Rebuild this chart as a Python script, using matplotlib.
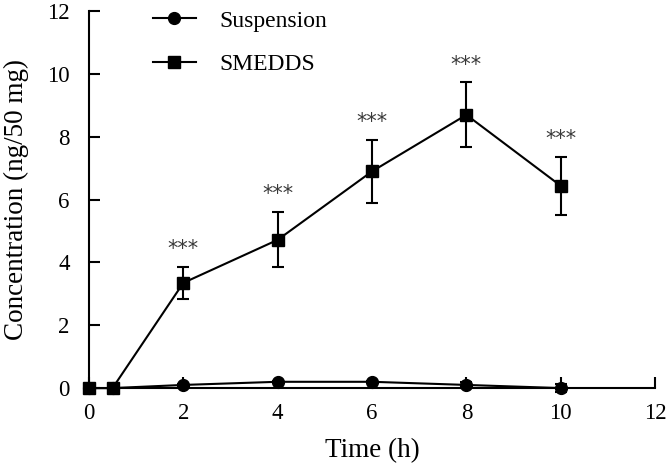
import numpy as np
import matplotlib
matplotlib.use('Agg')
import matplotlib.pyplot as plt

plt.rcParams['font.family'] = ['Liberation Serif', 'DejaVu Serif']

time_h = np.array([0, 0.5, 2, 4, 6, 8, 10])
suspension = np.array([0, 0, 0.1, 0.2, 0.2, 0.1, 0.0])
suspension_err = np.array([0, 0, 0.02, 0.03, 0.03, 0.1, 0.12])
smedds = np.array([0, 0, 3.35, 4.72, 6.9, 8.7, 6.44])
smedds_err = np.array([0, 0, 0.5, 0.88, 1.0, 1.03, 0.92])
stars = ['', '', '***', '***', '***', '***', '***']

fig = plt.figure(figsize=(6.66, 4.67), dpi=100)
ax = fig.add_axes([0.1336, 0.169, 0.85, 0.807])

eb = dict(fmt='none', ecolor='black', capsize=4.5, elinewidth=1.5, capthick=1.5, clip_on=False)
ax.errorbar(time_h, suspension, yerr=suspension_err, **eb)
ax.errorbar(time_h, smedds, yerr=smedds_err, **eb)
ax.plot(time_h, suspension, '-o', color='black', lw=1.5, ms=8.5, label='Suspension', clip_on=False)
ax.plot(time_h, smedds, '-s', color='black', lw=1.5, ms=8.5, label='SMEDDS', clip_on=False)

for x, y, e, s in zip(time_h, smedds, smedds_err, stars):
    if s:
        ax.text(x, y + e + 0.25, s, ha='center', va='bottom', fontsize=15,
                color='#3a3a3a', family='DejaVu Sans')

ax.set_xlim(0, 12)
ax.set_ylim(0, 12)
ax.set_xticks(np.arange(0, 13, 2))
ax.set_yticks(np.arange(0, 13, 2))
ax.spines['top'].set_visible(False)
ax.spines['right'].set_visible(False)
for sp in ax.spines.values():
    sp.set_linewidth(1.5)
ax.tick_params(direction='in', length=8, width=1.5, labelsize=16.5, pad=11)
ax.tick_params(axis='y', pad=14)
ax.set_xlabel('Time (h)', fontsize=19.5, labelpad=10)
ax.set_ylabel('Concentration (ng/50 mg)', fontsize=19.5, labelpad=13)

ax.legend(loc='upper left', bbox_to_anchor=(153 / 666, 1 - 10 / 467), bbox_transform=fig.transFigure,
          borderaxespad=0, borderpad=0, frameon=False, fontsize=17,
          handlelength=1.8, handletextpad=1.0, labelspacing=0.95)

fig.savefig('out.png', dpi=100)
